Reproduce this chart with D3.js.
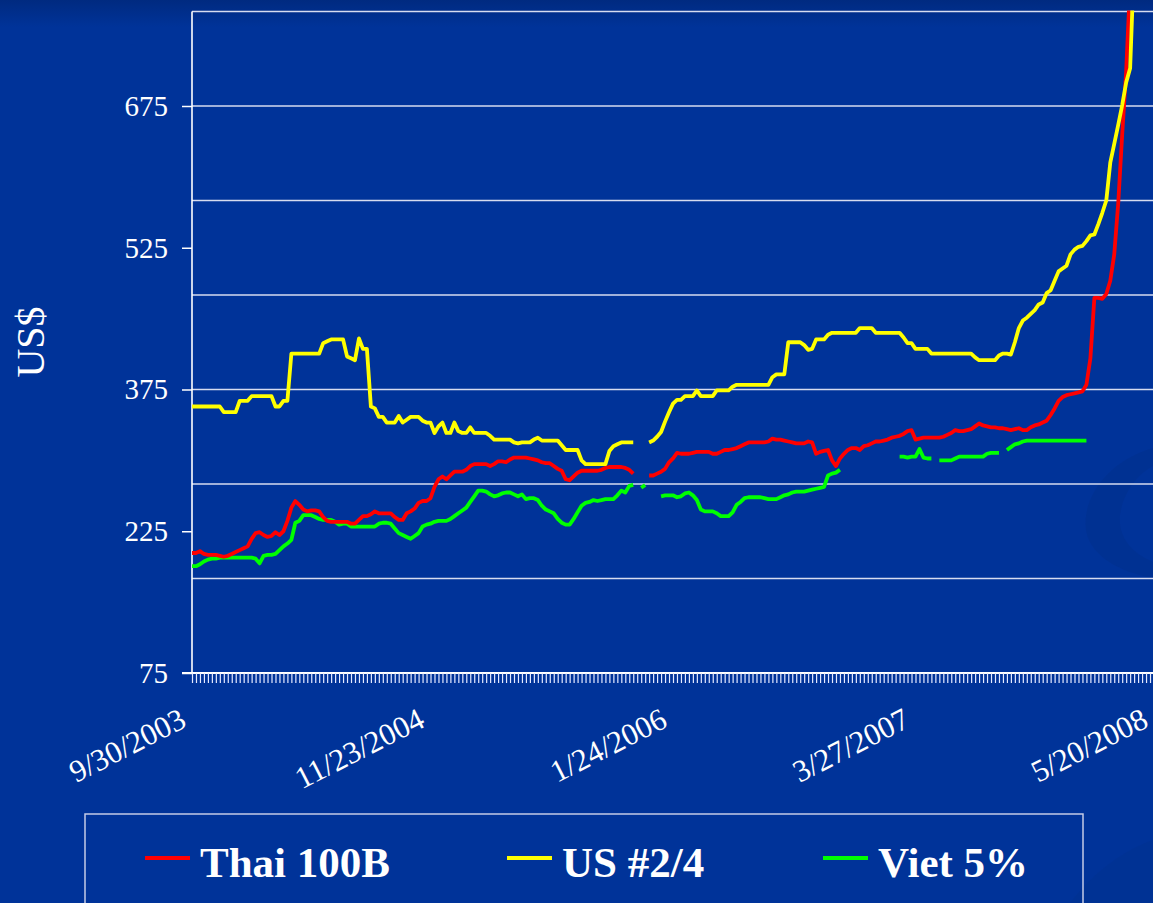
<!DOCTYPE html>
<html>
<head>
<meta charset="utf-8">
<script src="https://cdn.jsdelivr.net/npm/d3@7"></script>
<style>
  body { margin: 0; background: #003399; }
  svg { display: block; }
</style>
</head>
<body>
<svg id="chart" width="1153" height="903"></svg>
<script>
// weekly prices, US$ per ton, first week 9/30/2003 (null = no quote)
var N = null;
var weekCount = 243;
var xLabels = ["9/30/2003", "11/23/2004", "1/24/2006", "3/27/2007", "5/20/2008"];
var xLabelWeeks = [0, 60, 121, 182, 242];
var yTickValues = [75, 225, 375, 525, 675];
var gridValues = [175, 275, 375, 475, 575, 675, 775];
var seriesNames = ["Thai 100B", "US #2/4", "Viet 5%"];
var seriesColors = ["#ff0000", "#ffff00", "#00ff00"];

var thai100B = [
  202, 202, 204, 201, 200, 200, 200, 199, 198, 199,
  201, 203, 205, 207, 209, 217, 223, 224, 221, 219,
  220, 224, 221, 225, 236, 250, 257, 253, 248, 246,
  247, 247, 246, 240, 236, 235, 235, 235, 235, 235,
  233, 233, 237, 241, 241, 243, 246, 244, 244, 244,
  244, 240, 237, 237, 244, 246, 249, 255, 257, 257,
  260, 272, 280, 283, 280, 284, 288, 288, 288, 290,
  294, 296, 296, 296, 296, 294, 296, 299, 299, 298,
  301, 303, 303, 303, 303, 302, 301, 300, 298, 297,
  297, 294, 291, 289, 280, 279, 283, 287, 289, 289,
  289, 289, 289, 290, 292, 293, 293, 293, 293, 292,
  290, 286, N, N, N, 284, 284, 286, 288, 291,
  298, 302, 308, 307, 307, 307, 308, 309, 309, 309,
  309, 307, 307, 309, 311, 311, 312, 313, 315, 317,
  319, 319, 319, 319, 319, 320, 323, 322, 322, 321,
  320, 319, 318, 318, 318, 320, 319, 307, 309, 310,
  311, 300, 294, 302, 307, 311, 313, 313, 311, 315,
  316, 318, 320, 320, 321, 322, 324, 325, 326, 328,
  331, 332, 322, 323, 324, 324, 324, 324, 324, 325,
  327, 329, 332, 331, 331, 332, 333, 336, 339, 337,
  336, 335, 335, 334, 334, 333, 332, 333, 334, 332,
  332, 335, 337, 338, 340, 342, 348, 355, 363, 367,
  369, 370, 371, 372, 373, 380, 408, 472, 472, 471,
  476, 490, 518, 572, 645, 712, 805, N, N, N,
  N, N, N
];

var us24 = [
  357, 357, 357, 357, 357, 357, 357, 357, 351, 351,
  351, 351, 363, 363, 363, 368, 368, 368, 368, 368,
  368, 357, 357, 363, 363, 413, 413, 413, 413, 413,
  413, 413, 413, 424, 426, 428, 428, 428, 428, 410,
  408, 406, 429, 418, 418, 357, 355, 346, 346, 340,
  340, 340, 347, 340, 343, 346, 346, 346, 342, 340,
  340, 329, 336, 340, 329, 329, 340, 331, 329, 329,
  335, 329, 329, 329, 329, 326, 322, 322, 322, 322,
  322, 319, 318, 319, 319, 319, 322, 324, 321, 321,
  321, 321, 321, 316, 311, 311, 311, 311, 300, 296,
  296, 296, 296, 296, 296, 310, 315, 317, 319, 319,
  319, 319, N, N, N, 319, 321, 325, 330, 341,
  351, 360, 364, 364, 368, 368, 368, 374, 368, 368,
  368, 368, 374, 374, 374, 374, 378, 380, 380, 380,
  380, 380, 380, 380, 380, 380, 388, 391, 391, 391,
  425, 425, 425, 425, 422, 417, 418, 428, 428, 428,
  433, 435, 435, 435, 435, 435, 435, 435, 440, 440,
  440, 440, 435, 435, 435, 435, 435, 435, 435, 430,
  424, 424, 418, 418, 418, 418, 413, 413, 413, 413,
  413, 413, 413, 413, 413, 413, 413, 409, 406, 406,
  406, 406, 406, 411, 413, 413, 412, 425, 440, 448,
  451, 455, 459, 465, 467, 477, 480, 490, 500, 503,
  506, 518, 523, 526, 527, 532, 538, 539, 550, 562,
  575, 615, 635, 655, 676, 700, 715, 830, N, N,
  N, N, N
];

var viet5 = [
  188, 188, 190, 193, 195, 196, 196, 197, 197, 197,
  197, 197, 197, 197, 197, 197, 196, 191, 199, 200,
  200, 201, 205, 209, 212, 216, 234, 236, 242, 242,
  242, 240, 238, 237, 237, 237, 235, 232, 233, 233,
  230, 230, 230, 230, 230, 230, 230, 233, 234, 234,
  233, 228, 223, 221, 219, 217, 220, 223, 230, 232,
  233, 235, 236, 236, 236, 238, 241, 244, 247, 250,
  256, 262, 268, 268, 267, 264, 262, 263, 265, 266,
  266, 264, 262, 264, 259, 260, 260, 258, 252, 248,
  246, 244, 238, 234, 232, 232, 238, 245, 252, 255,
  256, 258, 257, 258, 259, 259, 259, 263, 268, 266,
  273, 274, N, 271, 274, N, N, N, 262, 263,
  263, 263, 261, 262, 265, 266, 263, 258, 248, 246,
  246, 246, 244, 241, 241, 241, 245, 253, 256, 260,
  261, 261, 261, 261, 260, 259, 259, 259, 261, 263,
  264, 266, 267, 267, 267, 268, 269, 270, 271, 272,
  284, 286, 287, 290, N, N, N, N, N, N,
  N, N, N, N, N, N, N, N, 304, 304,
  303, 304, 304, 312, 303, 302, 302, N, 300, 300,
  300, 300, 302, 304, 304, 304, 304, 304, 304, 304,
  307, 308, 308, 308, N, 311, 314, 317, 318, 320,
  321, 321, 321, 321, 321, 321, 321, 321, 321, 321,
  321, 321, 321, 321, 321, 321, N, N, N, N,
  N, N, N, N, N, N, N, N, N, N,
  N, N, N
];

var seriesData = [thai100B, us24, viet5];

var width = 1153, height = 903;
var plotLeft = 192, plotRight = 1154, plotTop = 11.5, plotBottom = 673;

var svg = d3.select("#chart");

// slide background
var defs = svg.append("defs");
var grad = defs.append("linearGradient").attr("id", "bg").attr("x1", 0).attr("y1", 0).attr("x2", 0).attr("y2", 1);
grad.append("stop").attr("offset", "0").attr("stop-color", "#002a80");
grad.append("stop").attr("offset", "0.03").attr("stop-color", "#003399");
grad.append("stop").attr("offset", "1").attr("stop-color", "#003399");
svg.append("rect").attr("width", width).attr("height", height).attr("fill", "url(#bg)");

// faint template swoosh on the right
svg.append("path")
  .attr("d", "M1153,448 C1105,462 1082,500 1086,530 C1090,556 1120,572 1153,578 L1153,562 C1130,552 1118,536 1120,515 C1123,492 1138,474 1153,466 Z")
  .attr("fill", "#002f8c").attr("opacity", 0.5);
svg.append("path")
  .attr("d", "M1070,903 C1095,870 1125,850 1153,840 L1153,903 Z")
  .attr("fill", "#00318f").attr("opacity", 0.5);

defs.append("clipPath").attr("id", "plotClip")
  .append("rect").attr("x", plotLeft - 2).attr("y", plotTop - 1)
  .attr("width", plotRight - plotLeft + 10).attr("height", plotBottom - plotTop + 2);

var x = d3.scaleLinear().domain([0, weekCount - 1]).range([plotLeft, plotRight]);
var y = d3.scaleLinear().domain([75, 775]).range([plotBottom, plotTop]);

// gridlines
svg.append("g").selectAll("line")
  .data(gridValues)
  .enter().append("line")
  .attr("x1", plotLeft).attr("x2", width)
  .attr("y1", function(d) { return y(d); })
  .attr("y2", function(d) { return y(d); })
  .attr("stroke", "#d6dcf0")
  .attr("stroke-width", 1.6);

// y axis
var yAxis = svg.append("g")
  .attr("transform", "translate(" + plotLeft + ",0)")
  .call(d3.axisLeft(y).tickValues(yTickValues).tickSize(10).tickPadding(14));
yAxis.select(".domain").attr("stroke", "#ffffff").attr("stroke-width", 1.6)
  .attr("d", "M0," + plotTop + "V" + plotBottom);
yAxis.selectAll(".tick line").attr("stroke", "#ffffff").attr("stroke-width", 1.5);
yAxis.selectAll(".tick text")
  .attr("fill", "#ffffff")
  .style("font-family", "'Liberation Serif', 'Times New Roman', serif")
  .style("font-size", "29px");

// x axis, one tick per week
var xAxis = svg.append("g")
  .attr("transform", "translate(0," + plotBottom + ")")
  .call(d3.axisBottom(x).tickValues(d3.range(weekCount)).tickSize(10).tickFormat(""));
xAxis.select(".domain").attr("stroke", "#ffffff").attr("stroke-width", 2)
  .attr("d", "M" + (plotLeft - 10) + ",0H" + width);
xAxis.selectAll(".tick line").attr("stroke", "#e4e9ff").attr("stroke-width", 1.2);

// rotated date labels
svg.append("g").selectAll("text")
  .data(xLabels)
  .enter().append("text")
  .attr("transform", function(d, i) {
    return "translate(" + (x(xLabelWeeks[i]) - 4) + ",726) rotate(-27)";
  })
  .attr("text-anchor", "end")
  .attr("fill", "#ffffff")
  .style("font-family", "'Liberation Serif', 'Times New Roman', serif")
  .style("font-size", "31px")
  .text(function(d) { return d; });

// y title
svg.append("text")
  .attr("transform", "translate(44,342) rotate(-90)")
  .attr("text-anchor", "middle")
  .attr("fill", "#ffffff")
  .style("font-family", "'Liberation Serif', 'Times New Roman', serif")
  .style("font-size", "40px")
  .text("US$");

// price lines
var line = d3.line()
  .defined(function(d) { return d !== null; })
  .x(function(d, i) { return x(i); })
  .y(function(d) { return y(d); });

svg.append("g").attr("clip-path", "url(#plotClip)")
  .selectAll("path")
  .data([viet5, thai100B, us24])
  .enter().append("path")
  .attr("d", line)
  .attr("fill", "none")
  .attr("stroke", function(d) { return seriesColors[seriesData.indexOf(d)]; })
  .attr("stroke-width", 3.8)
  .attr("stroke-linejoin", "round");

// legend
var legend = svg.append("g");
legend.append("rect")
  .attr("x", 85).attr("y", 814).attr("width", 998).attr("height", 110)
  .attr("fill", "none").attr("stroke", "#c4cce6").attr("stroke-width", 1.5);

var legendX = [145, 507, 823];
var item = legend.selectAll(".item")
  .data(seriesNames)
  .enter().append("g")
  .attr("class", "item")
  .attr("transform", function(d, i) { return "translate(" + legendX[i] + ",0)"; });
item.append("line")
  .attr("x1", 0).attr("x2", 45).attr("y1", 858).attr("y2", 858)
  .attr("stroke", function(d, i) { return seriesColors[i]; })
  .attr("stroke-width", 4);
item.append("text")
  .attr("x", 55).attr("y", 877)
  .attr("fill", "#ffffff")
  .style("font-family", "'Liberation Serif', 'Times New Roman', serif")
  .style("font-weight", "bold")
  .style("font-size", "43px")
  .text(function(d) { return d; });
</script>
</body>
</html>
